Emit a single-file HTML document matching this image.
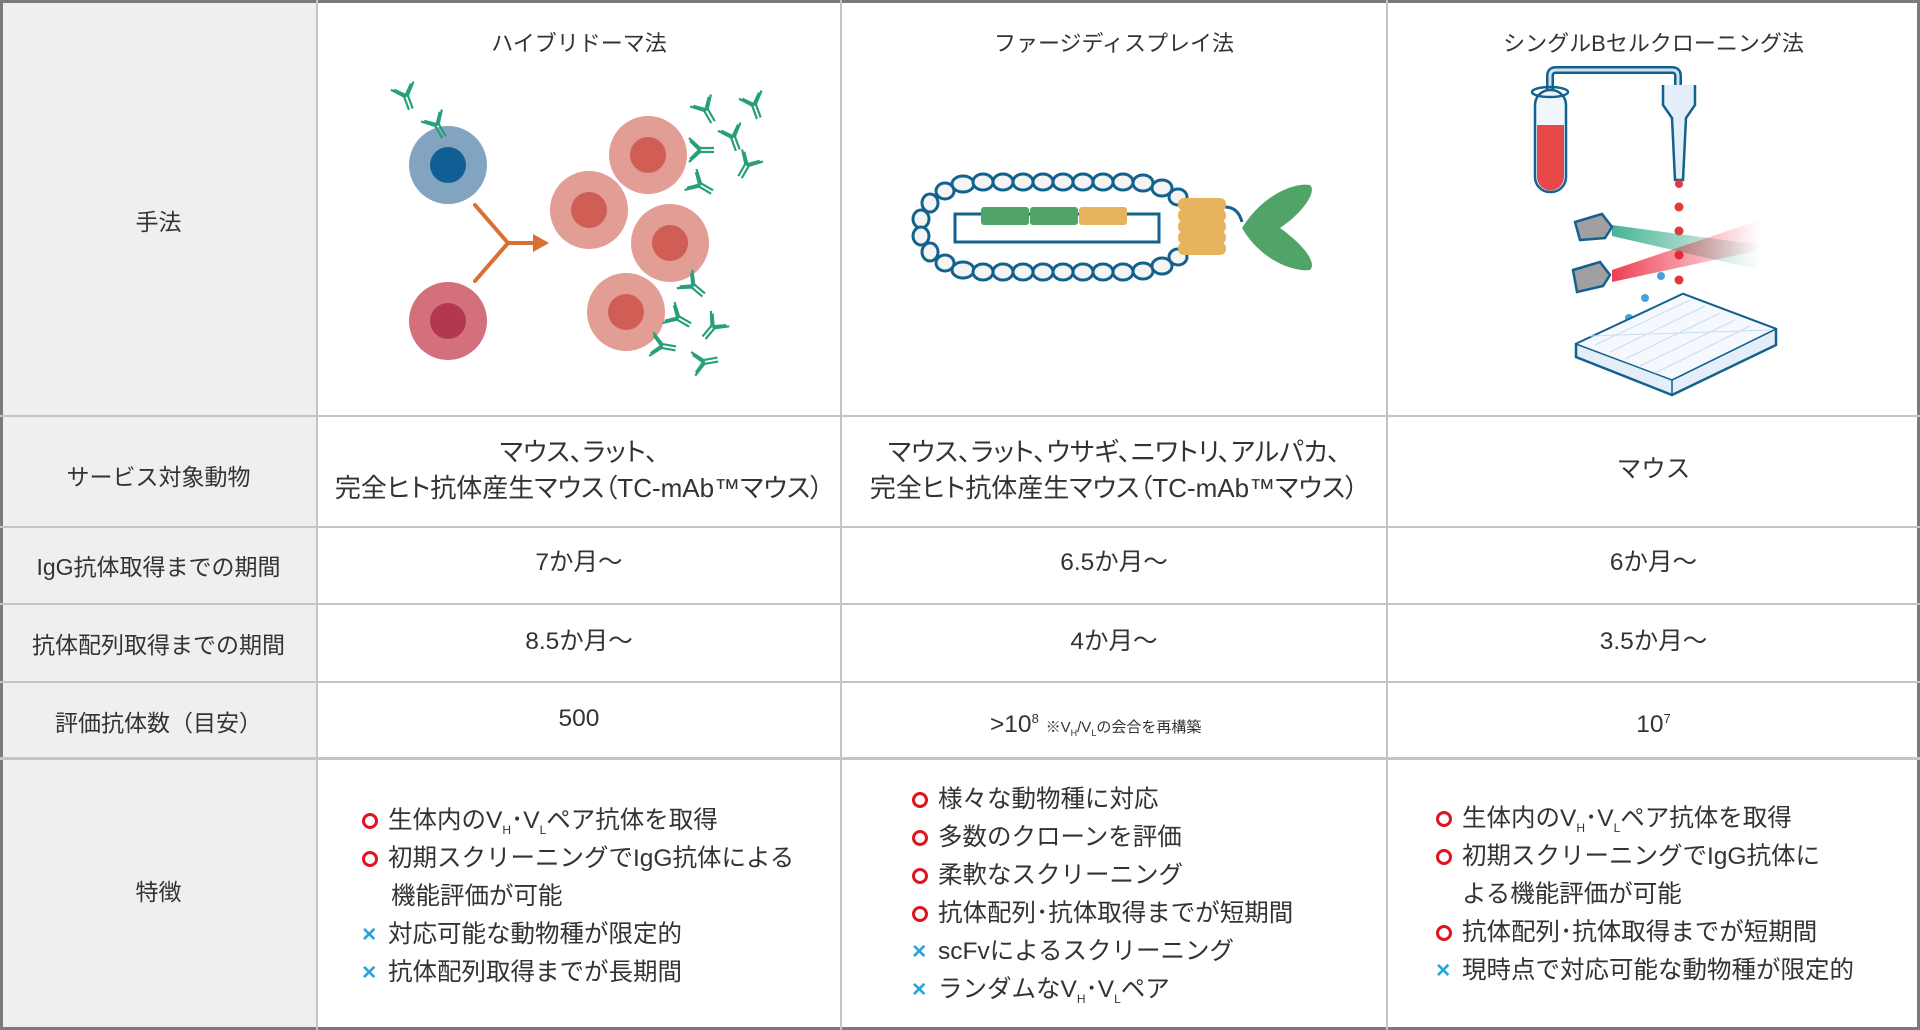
<!DOCTYPE html>
<html><head><meta charset="utf-8"><style>
*{margin:0;padding:0;box-sizing:border-box}
body{width:1920px;height:1030px;background:#fff;position:relative;overflow:hidden;font-family:"Liberation Sans","Noto Sans CJK JP",sans-serif;color:#333}
.a{position:absolute}
.c{position:absolute;text-align:center;white-space:nowrap}
.h{font-size:22px;color:#333}
.l{font-size:23px;color:#333}
.t{font-size:24.5px;line-height:36px}
.p{font-feature-settings:"palt";font-size:26px}
.f{position:absolute;font-size:24.5px;white-space:nowrap}
.o{display:inline-block;width:16px;height:16px;border:3px solid #e0141e;border-radius:50%;margin:0 10px -1px 0}
.x{color:#27a5dc;font-weight:bold;display:inline-block;width:26px}
sub{font-size:12px;vertical-align:-6px}
sup{font-size:13px;vertical-align:9px}
</style></head><body>
<div class="a" style="left:0;top:0;width:317px;height:1030px;background:#efefef"></div>
<div class="a" style="left:0;top:0;width:1920px;height:1030px;border:3px solid #7a7a7a"></div>
<div class="a" style="left:316px;top:0;width:2px;height:1030px;background:#c4c4c4"></div>
<div class="a" style="left:840px;top:0;width:2px;height:1030px;background:#c4c4c4"></div>
<div class="a" style="left:1386px;top:0;width:2px;height:1030px;background:#c4c4c4"></div>
<div class="a" style="left:0;top:415px;width:1920px;height:2px;background:#c4c4c4"></div>
<div class="a" style="left:0;top:526px;width:1920px;height:2px;background:#c4c4c4"></div>
<div class="a" style="left:0;top:603px;width:1920px;height:2px;background:#c4c4c4"></div>
<div class="a" style="left:0;top:681px;width:1920px;height:2px;background:#c4c4c4"></div>
<div class="a" style="left:0;top:757px;width:1920px;height:3px;background:#c4c4c4"></div>

<div class="c h" style="left:317px;width:524px;top:26px">ハイブリドーマ法</div>
<div class="c h" style="left:841px;width:546px;top:26px">ファージディスプレイ法</div>
<div class="c h" style="left:1387px;width:533px;top:26px">シングルBセルクローニング法</div>

<div class="c l" style="left:0;width:317px;top:203px">手法</div>
<div class="c l" style="left:0;width:317px;top:458px">サービス対象動物</div>
<div class="c l" style="left:0;width:317px;top:548px">IgG抗体取得までの期間</div>
<div class="c l" style="left:0;width:317px;top:626px">抗体配列取得までの期間</div>
<div class="c l" style="left:0;width:317px;top:704px">評価抗体数（目安）</div>
<div class="c l" style="left:0;width:317px;top:873px">特徴</div>

<div class="c t p" style="left:317px;width:524px;top:434px">マウス、ラット、<br>完全ヒト抗体産生マウス（TC-mAb™マウス）</div>
<div class="c t p" style="left:841px;width:546px;top:434px">マウス、ラット、ウサギ、ニワトリ、アルパカ、<br>完全ヒト抗体産生マウス（TC-mAb™マウス）</div>
<div class="c t" style="left:1387px;width:533px;top:452px">マウス</div>
<div class="c t" style="left:317px;width:524px;top:545px">7か月〜</div>
<div class="c t" style="left:841px;width:546px;top:545px">6.5か月〜</div>
<div class="c t" style="left:1387px;width:533px;top:545px">6か月〜</div>
<div class="c t" style="left:317px;width:524px;top:624px">8.5か月〜</div>
<div class="c t" style="left:841px;width:546px;top:624px">4か月〜</div>
<div class="c t" style="left:1387px;width:533px;top:624px">3.5か月〜</div>
<div class="c t" style="left:317px;width:524px;top:701px">500</div>
<div class="a t" style="left:990px;top:701px;white-space:nowrap">&gt;10<sup>8</sup> <span style="font-size:15px">※V<sub style="font-size:9px;vertical-align:-4px">H</sub>/V<sub style="font-size:9px;vertical-align:-4px">L</sub>の会合を再構築</span></div>
<div class="c t" style="left:1387px;width:533px;top:701px">10<sup>7</sup></div>

<div class="f" style="left:362px;top:801px"><span class="o"></span>生体内のV<sub>H</sub>･V<sub>L</sub>ペア抗体を取得</div>
<div class="f" style="left:362px;top:839px"><span class="o"></span>初期スクリーニングでIgG抗体による</div>
<div class="f" style="left:391px;top:877px">機能評価が可能</div>
<div class="f" style="left:362px;top:915px"><span class="x">×</span>対応可能な動物種が限定的</div>
<div class="f" style="left:362px;top:953px"><span class="x">×</span>抗体配列取得までが長期間</div>

<div class="f" style="left:912px;top:780px"><span class="o"></span>様々な動物種に対応</div>
<div class="f" style="left:912px;top:818px"><span class="o"></span>多数のクローンを評価</div>
<div class="f" style="left:912px;top:856px"><span class="o"></span>柔軟なスクリーニング</div>
<div class="f" style="left:912px;top:894px"><span class="o"></span>抗体配列･抗体取得までが短期間</div>
<div class="f" style="left:912px;top:932px"><span class="x">×</span>scFvによるスクリーニング</div>
<div class="f" style="left:912px;top:970px"><span class="x">×</span>ランダムなV<sub>H</sub>･V<sub>L</sub>ペア</div>

<div class="f" style="left:1436px;top:799px"><span class="o"></span>生体内のV<sub>H</sub>･V<sub>L</sub>ペア抗体を取得</div>
<div class="f" style="left:1436px;top:837px"><span class="o"></span>初期スクリーニングでIgG抗体に</div>
<div class="f" style="left:1462px;top:875px">よる機能評価が可能</div>
<div class="f" style="left:1436px;top:913px"><span class="o"></span>抗体配列･抗体取得までが短期間</div>
<div class="f" style="left:1436px;top:951px"><span class="x">×</span>現時点で対応可能な動物種が限定的</div>

<svg class="a" style="left:0;top:0" width="1920" height="415" viewBox="0 0 1920 415">
<defs>
<g id="ab" stroke="#27a07a" stroke-width="2.2" fill="none">
<path d="M-2 0V14M2 0V14M-2 0L-12-11M2 1L-9-10M2 0L12-11M-2 1L9-10"/>
</g>
<linearGradient id="gb" x1="0" x2="1"><stop offset="0" stop-color="#1aa07a"/><stop offset="1" stop-color="#1aa07a" stop-opacity="0"/></linearGradient>
<linearGradient id="rb" x1="0" x2="1"><stop offset="0" stop-color="#e8102a"/><stop offset="1" stop-color="#e8102a" stop-opacity="0"/></linearGradient>
</defs>
<circle cx="448" cy="165" r="39" fill="#82a4c0"/><circle cx="448" cy="165" r="18" fill="#115e94"/>
<circle cx="448" cy="321" r="39" fill="#d3707c"/><circle cx="448" cy="321" r="18" fill="#b2384f"/>
<path d="M475 205L508 243L475 281M508 243H540" stroke="#d87032" stroke-width="4" fill="none" stroke-linecap="round"/>
<path d="M533 234L549 243L533 252Z" fill="#d87032"/>
<g fill="#e29e94"><circle cx="648" cy="155" r="39"/><circle cx="589" cy="210" r="39"/><circle cx="670" cy="243" r="39"/><circle cx="626" cy="312" r="39"/></g>
<g fill="#d05e55"><circle cx="648" cy="155" r="18"/><circle cx="589" cy="210" r="18"/><circle cx="670" cy="243" r="18"/><circle cx="626" cy="312" r="18"/></g>
<use href="#ab" transform="translate(406,96) rotate(-20)"/><use href="#ab" transform="translate(437,125) rotate(-30)"/>
<use href="#ab" transform="translate(706,110) rotate(-30)"/><use href="#ab" transform="translate(754,105) rotate(-20)"/>
<use href="#ab" transform="translate(733,137) rotate(-20)"/><use href="#ab" transform="translate(700,150) rotate(-90)"/>
<use href="#ab" transform="translate(747,165) rotate(30)"/><use href="#ab" transform="translate(700,185) rotate(-60)"/>
<use href="#ab" transform="translate(693,286) rotate(-50)"/><use href="#ab" transform="translate(678,318) rotate(-60)"/>
<use href="#ab" transform="translate(713,327) rotate(40)"/><use href="#ab" transform="translate(662,346) rotate(-80)"/>
<use href="#ab" transform="translate(704,362) rotate(-100)"/>
<g fill="#f4f4f4" stroke="#13628e" stroke-width="3">
<ellipse cx="963" cy="184" rx="11" ry="8"/><ellipse cx="983" cy="182" rx="10" ry="8"/><ellipse cx="1003" cy="182" rx="10" ry="8"/><ellipse cx="1023" cy="182" rx="10" ry="8"/><ellipse cx="1043" cy="182" rx="10" ry="8"/><ellipse cx="1063" cy="182" rx="10" ry="8"/><ellipse cx="1083" cy="182" rx="10" ry="8"/><ellipse cx="1103" cy="182" rx="10" ry="8"/><ellipse cx="1123" cy="182" rx="10" ry="8"/><ellipse cx="1143" cy="183" rx="10" ry="8"/><ellipse cx="1162" cy="188" rx="10" ry="8"/><ellipse cx="1178" cy="197" rx="9" ry="8"/>
<ellipse cx="963" cy="270" rx="11" ry="8"/><ellipse cx="983" cy="272" rx="10" ry="8"/><ellipse cx="1003" cy="272" rx="10" ry="8"/><ellipse cx="1023" cy="272" rx="10" ry="8"/><ellipse cx="1043" cy="272" rx="10" ry="8"/><ellipse cx="1063" cy="272" rx="10" ry="8"/><ellipse cx="1083" cy="272" rx="10" ry="8"/><ellipse cx="1103" cy="272" rx="10" ry="8"/><ellipse cx="1123" cy="272" rx="10" ry="8"/><ellipse cx="1143" cy="271" rx="10" ry="8"/><ellipse cx="1162" cy="266" rx="10" ry="8"/><ellipse cx="1178" cy="257" rx="9" ry="8"/>
<ellipse cx="945" cy="191" rx="9" ry="8"/><ellipse cx="930" cy="203" rx="8" ry="9"/><ellipse cx="921" cy="219" rx="8" ry="9"/><ellipse cx="921" cy="236" rx="8" ry="9"/><ellipse cx="930" cy="252" rx="8" ry="9"/><ellipse cx="945" cy="263" rx="9" ry="8"/>
</g>
<rect x="955" y="214" width="204" height="28" fill="#fff" stroke="#13628e" stroke-width="3"/>
<rect x="981" y="207" width="48" height="18" rx="3" fill="#50a468"/><rect x="1030" y="207" width="48" height="18" rx="3" fill="#50a468"/>
<rect x="1079" y="207" width="48" height="18" rx="3" fill="#e6b35e"/>
<path d="M1225 207Q1238 207 1242 222" stroke="#13628e" stroke-width="3" fill="none"/>
<g fill="#e6b35e"><rect x="1178" y="198" width="48" height="13" rx="6"/><rect x="1178" y="209" width="48" height="13" rx="6"/><rect x="1178" y="220" width="48" height="13" rx="6"/><rect x="1178" y="231" width="48" height="13" rx="6"/><rect x="1178" y="242" width="48" height="13" rx="6"/></g>
<path d="M1242 228C1262 195 1295 182 1310 185C1318 192 1300 215 1280 228C1300 242 1318 262 1310 270C1295 272 1262 262 1242 228Z" fill="#50a468"/>
<path d="M1550 110V76Q1550 70 1556 70H1672Q1678 70 1678 76V92" stroke="#13628e" stroke-width="8" fill="none"/>
<path d="M1550 110V76Q1550 70 1556 70H1672Q1678 70 1678 76V92" stroke="#cfe2f0" stroke-width="3" fill="none"/>
<rect x="1535" y="90" width="31" height="102" rx="15" fill="#f0f6fb" stroke="#13628e" stroke-width="2.5"/>
<path d="M1537 125H1564V177A13.5 13.5 0 0 1 1537 177Z" fill="#e64848"/>
<ellipse cx="1550" cy="92" rx="18" ry="5" fill="none" stroke="#13628e" stroke-width="2.5"/>
<path d="M1663 85V105L1672 118L1675 180H1683L1686 118L1695 105V85" fill="#e4eef8" stroke="#13628e" stroke-width="2.5"/>
<g fill="#e23a3a"><circle cx="1679" cy="184" r="4"/><circle cx="1679" cy="207" r="4.5"/><circle cx="1679" cy="231" r="4.5"/><circle cx="1679" cy="255" r="4.5"/><circle cx="1679" cy="280" r="4.5"/><circle cx="1679" cy="305" r="5"/></g>
<path d="M1612 225L1760 245L1760 270L1612 236Z" fill="url(#gb)" opacity=".8"/>
<path d="M1612 270L1760 220L1760 250L1612 282Z" fill="url(#rb)" opacity=".8"/>
<path d="M1575 222L1602 214L1612 227L1605 238L1580 240Z" fill="#a0a0a0" stroke="#13628e" stroke-width="2.5"/>
<path d="M1573 270L1600 262L1610 275L1603 286L1577 292Z" fill="#a0a0a0" stroke="#13628e" stroke-width="2.5"/>
<g fill="#4aa0dc"><circle cx="1661" cy="276" r="4"/><circle cx="1645" cy="298" r="4"/><circle cx="1629" cy="318" r="4"/></g>
<path d="M1576 344L1683 294L1776 329L1776 345L1672 395L1576 357Z" fill="#e4eef8" stroke="#13628e" stroke-width="2.5"/>
<path d="M1576 344L1683 294L1776 329L1672 380Z" fill="#f5f9fd" stroke="#13628e" stroke-width="1.5"/>
<path d="M1672 380V395M1672 380L1776 329" stroke="#13628e" stroke-width="1.5"/>
<g stroke="#c9dcee" stroke-width="1" fill="none">
<path d="M1595 345L1690 300M1610 352L1705 306M1625 359L1720 313M1640 366L1735 320M1655 373L1750 326M1590 336L1770 330"/>
</g>
</svg>
</body></html>
